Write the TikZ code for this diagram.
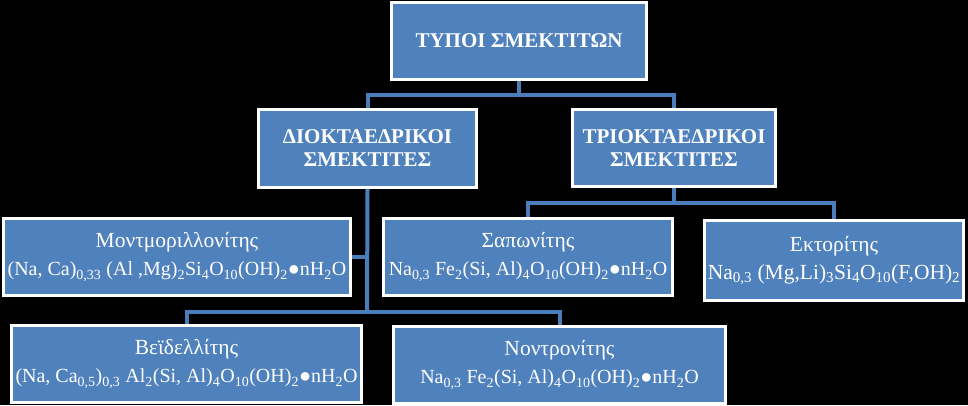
\documentclass[tikz,border=0pt]{standalone}
\usepackage{fontspec}
\setmainfont{Liberation Serif}
\usetikzlibrary{backgrounds}
\definecolor{boxblue}{RGB}{79,129,189}
\definecolor{lineblue}{RGB}{74,126,187}
\newcommand{\sbs}[1]{\textsubscript{#1}}
\newcommand{\mname}[1]{{\fontsize{21.5}{28}\selectfont #1}}
\tikzset{
  typebox/.style = {draw = white, line width = 3pt, fill = boxblue, text = white, align = center, inner sep = 1pt},
  headfont/.style = {font = \fontsize{21}{23}\selectfont\bfseries},
  mineralfont/.style = {font = \fontsize{20}{28}\selectfont},
  conn/.style = {draw = lineblue, line width = 4pt}
}

\begin{document}
\begin{tikzpicture}[x = 1pt, y = -1pt]
\begin{scope}[on background layer]
\fill[black] (0,0) rectangle (968,405);
\end{scope}
\useasboundingbox (0,0) rectangle (968,405);
% top level
\node[typebox, headfont, minimum width = 255pt, minimum height = 77pt] (types) at (519,41) {ΤΥΠΟΙ ΣΜΕΚΤΙΤΩΝ};
% second level
\node[typebox, headfont, minimum width = 218pt, minimum height = 78pt] (dioct) at (367.5,148.5) {ΔΙΟΚΤΑΕΔΡΙΚΟΙ\\ΣΜΕΚΤΙΤΕΣ};
\node[typebox, headfont, minimum width = 203pt, minimum height = 77pt] (trioct) at (674,148) {ΤΡΙΟΚΤΑΕΔΡΙΚΟΙ\\ΣΜΕΚΤΙΤΕΣ};
% minerals
\node[typebox, mineralfont, minimum width = 347pt, minimum height = 77pt] (montm) at (177,257) {\mname{Μοντμοριλλονίτης}\\(Na, Ca)\sbs{0,33} (Al ,Mg)\sbs{2}Si\sbs{4}O\sbs{10}(OH)\sbs{2}●nH\sbs{2}O};
\node[typebox, mineralfont, minimum width = 289pt, minimum height = 77pt] (sapon) at (528,257) {\mname{Σαπωνίτης}\\Na\sbs{0,3} Fe\sbs{2}(Si, Al)\sbs{4}O\sbs{10}(OH)\sbs{2}●nH\sbs{2}O};
\node[typebox, mineralfont, font = \fontsize{21.5}{28}\selectfont, minimum width = 259pt, minimum height = 80pt] (hector) at (834,260.5) {\mname{Εκτορίτης}\\Na\sbs{0,3} (Mg,Li)\sbs{3}Si\sbs{4}O\sbs{10}(F,OH)\sbs{2}};
\node[typebox, mineralfont, minimum width = 350pt, minimum height = 77pt] (beid) at (186.5,364) {\mname{Βεϊδελλίτης}\\(Na, Ca\sbs{0,5})\sbs{0,3} Al\sbs{2}(Si, Al)\sbs{4}O\sbs{10}(OH)\sbs{2}●nH\sbs{2}O};
\node[typebox, mineralfont, minimum width = 332pt, minimum height = 77pt] (nontr) at (559.5,365) {\mname{Νοντρονίτης}\\Na\sbs{0,3} Fe\sbs{2}(Si, Al)\sbs{4}O\sbs{10}(OH)\sbs{2}●nH\sbs{2}O};
% connectors
\coordinate (split1) at (519,95);
\coordinate (split2) at (367,312);
\coordinate (split3) at (674,203);
\begin{scope}[on background layer]
\draw[conn] (types.south) -- (split1);
\draw[conn] (dioct.north) -- (dioct.north |- split1) -- (trioct.north |- split1) -- (trioct.north);
\draw[conn] (dioct.south) -- (split2);
\draw[conn] (montm.east) -- (montm.east -| split2);
\draw[conn] (beid.north) -- (beid.north |- split2) -- (nontr.north |- split2) -- (nontr.north);
\draw[conn] (trioct.south) -- (split3);
\draw[conn] (sapon.north) -- (sapon.north |- split3) -- (hector.north |- split3) -- (hector.north);
\end{scope}
\end{tikzpicture}
\end{document}
